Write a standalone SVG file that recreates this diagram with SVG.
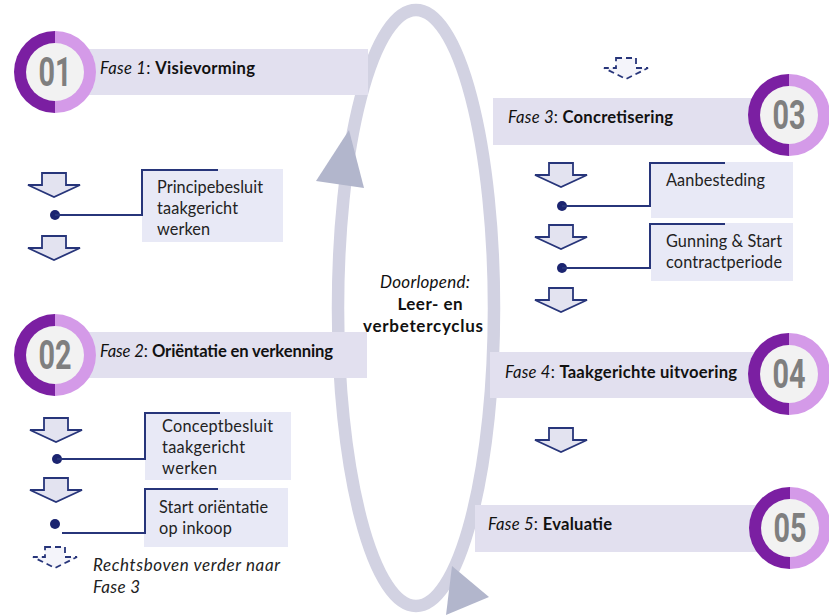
<svg xmlns="http://www.w3.org/2000/svg" width="829" height="616" viewBox="0 0 829 616">
<style>
.bar{fill:#e2e0ef}
.sub{fill:#e8e9f6}
.ph{font-family:Lato,"Liberation Sans",sans-serif;font-size:16.6px;fill:#111}
.it{font-style:italic;font-weight:normal}
.bd{font-weight:bold}
.st{font-family:Lato,"Liberation Sans",sans-serif;font-size:16.3px;fill:#222}
.nt{font-size:17px}
.num{font-family:Roboto,"Liberation Sans",sans-serif;font-size:40px;font-weight:bold;fill:#7f7f7f}
.dk{fill:#7b1fa2}
.lt{fill:#d49ae8}
.in{fill:#f2f2f2}
.ar{fill:#e3e3f0;stroke:#27357a;stroke-width:1.8;stroke-linejoin:miter}
.da{fill:#f4f4fa;stroke:#27357a;stroke-width:1.8;stroke-dasharray:6 4}
.ln{fill:none;stroke:#27357a;stroke-width:2}
.dot{fill:#1b2470}
.cen{font-family:Lato,"Liberation Sans",sans-serif;font-size:17px;fill:#111;text-anchor:middle}
</style>
<defs>
<path id="arr" d="M14,0 H38 V12 H52 L26,24 L0,12 H14 Z"/>
<path id="darr" d="M12,0 H32 V10 H44 L22,21 L0,10 H12 Z"/>
</defs>

<g id="cycle">
<ellipse cx="416" cy="308" rx="78" ry="298" fill="none" stroke="#d2d2e2" stroke-width="12.5"/>
<polygon points="349,130 316,181 364,188" fill="#b2b6cc"/>
<polygon points="452,566 489,597 446,615" fill="#b2b6cc"/>
<text class="cen it" x="425" y="288" textLength="90">Doorlopend:</text>
<text class="cen bd" x="430" y="310" textLength="65">Leer- en</text>
<text class="cen bd" x="423" y="332" textLength="120">verbetercyclus</text>
</g>

<g id="fase1">
<rect class="bar" x="87" y="49" width="281" height="46"/>
<path class="dk" d="M55,31 A41,41 0 0 0 55,113 Z"/>
<path class="lt" d="M55,31 A41,41 0 0 1 55,113 Z"/>
<circle class="in" cx="55" cy="72" r="29"/>
<text class="num" text-anchor="middle" transform="translate(55,86) scale(0.72,1)">01</text>
<text class="ph" x="100" y="74" textLength="155"><tspan class="it">Fase 1</tspan>: <tspan class="bd">Visievorming</tspan></text>
</g>

<g id="fase2">
<rect class="bar" x="87" y="332" width="280" height="46"/>
<path class="dk" d="M55,314 A41,41 0 0 0 55,396 Z"/>
<path class="lt" d="M55,314 A41,41 0 0 1 55,396 Z"/>
<circle class="in" cx="55" cy="355" r="29"/>
<text class="num" text-anchor="middle" transform="translate(55,369) scale(0.72,1)">02</text>
<text class="ph" x="100" y="357" textLength="233"><tspan class="it">Fase 2</tspan>: <tspan class="bd">Oriëntatie en verkenning</tspan></text>
</g>

<g id="fase3">
<rect class="bar" x="493" y="98" width="270" height="47"/>
<path class="dk" d="M789,74 A41,41 0 0 0 789,156 Z"/>
<path class="lt" d="M789,74 A41,41 0 0 1 789,156 Z"/>
<circle class="in" cx="789" cy="115" r="29"/>
<text class="num" text-anchor="middle" transform="translate(789,129) scale(0.72,1)">03</text>
<text class="ph" x="508" y="123" textLength="165"><tspan class="it">Fase 3</tspan>: <tspan class="bd">Concretisering</tspan></text>
</g>

<g id="fase4">
<rect class="bar" x="490" y="352" width="273" height="46"/>
<path class="dk" d="M789,333 A41,41 0 0 0 789,415 Z"/>
<path class="lt" d="M789,333 A41,41 0 0 1 789,415 Z"/>
<circle class="in" cx="789" cy="374" r="29"/>
<text class="num" text-anchor="middle" transform="translate(789,388) scale(0.72,1)">04</text>
<text class="ph" x="505" y="378" textLength="232"><tspan class="it">Fase 4</tspan>: <tspan class="bd">Taakgerichte uitvoering</tspan></text>
</g>

<g id="fase5">
<rect class="bar" x="475" y="505" width="285" height="47"/>
<path class="dk" d="M790,487 A41,41 0 0 0 790,569 Z"/>
<path class="lt" d="M790,487 A41,41 0 0 1 790,569 Z"/>
<circle class="in" cx="790" cy="528" r="29"/>
<text class="num" text-anchor="middle" transform="translate(790,542) scale(0.72,1)">05</text>
<text class="ph" x="488" y="530" textLength="124"><tspan class="it">Fase 5</tspan>: <tspan class="bd">Evaluatie</tspan></text>
</g>

<g id="principebesluit">
<rect class="sub" x="142" y="169" width="141" height="73"/>
<text class="st" x="157" y="193" textLength="106">Principebesluit</text>
<text class="st" x="157" y="214" textLength="81">taakgericht</text>
<text class="st" x="157" y="235" textLength="53">werken</text>
</g>

<g id="conceptbesluit">
<rect class="sub" x="145" y="412" width="146" height="68"/>
<text class="st" x="162" y="432" textLength="111">Conceptbesluit</text>
<text class="st" x="162" y="453" textLength="83">taakgericht</text>
<text class="st" x="162" y="474" textLength="55">werken</text>
</g>

<g id="startorientatie">
<rect class="sub" x="144" y="488" width="144" height="59"/>
<text class="st" x="159" y="513" textLength="109">Start oriëntatie</text>
<text class="st" x="159" y="534" textLength="73">op inkoop</text>
</g>

<g id="aanbesteding">
<rect class="sub" x="651" y="162" width="142" height="56"/>
<text class="st" x="666" y="186" textLength="99">Aanbesteding</text>
</g>

<g id="gunning">
<rect class="sub" x="651" y="223" width="142" height="58"/>
<text class="st" x="666" y="247" textLength="116">Gunning &amp; Start</text>
<text class="st" x="666" y="268" textLength="116">contractperiode</text>
</g>

<g id="note">
<text class="st it nt" x="93" y="571" textLength="187">Rechtsboven verder naar</text>
<text class="st it nt" x="93" y="593" textLength="47">Fase 3</text>
</g>

<g id="connectors">
<use href="#arr" class="ar" x="28" y="173"/>
<use href="#arr" class="ar" x="28" y="236"/>
<use href="#arr" class="ar" x="30" y="418"/>
<use href="#arr" class="ar" x="30" y="478"/>
<use href="#darr" class="da" x="33" y="547"/>
<use href="#darr" class="da" x="604" y="58"/>
<use href="#arr" class="ar" x="535" y="163"/>
<use href="#arr" class="ar" x="535" y="225"/>
<use href="#arr" class="ar" x="535" y="288"/>
<use href="#arr" class="ar" x="535" y="428"/>
<circle class="dot" cx="55" cy="215" r="5"/>
<polyline class="ln" points="55,215 142,215 142,170 218,170"/>
<circle class="dot" cx="57" cy="459" r="5"/>
<polyline class="ln" points="57,459 145,459 145,413 220,413"/>
<circle class="dot" cx="55" cy="524" r="5"/>
<polyline class="ln" points="62,533 145,533 145,489 218,489"/>
<circle class="dot" cx="562" cy="206" r="5"/>
<polyline class="ln" points="562,206 650,206 650,163 725,163"/>
<circle class="dot" cx="562" cy="268" r="5"/>
<polyline class="ln" points="562,268 650,268 650,224 725,224"/>
</g>
</svg>
